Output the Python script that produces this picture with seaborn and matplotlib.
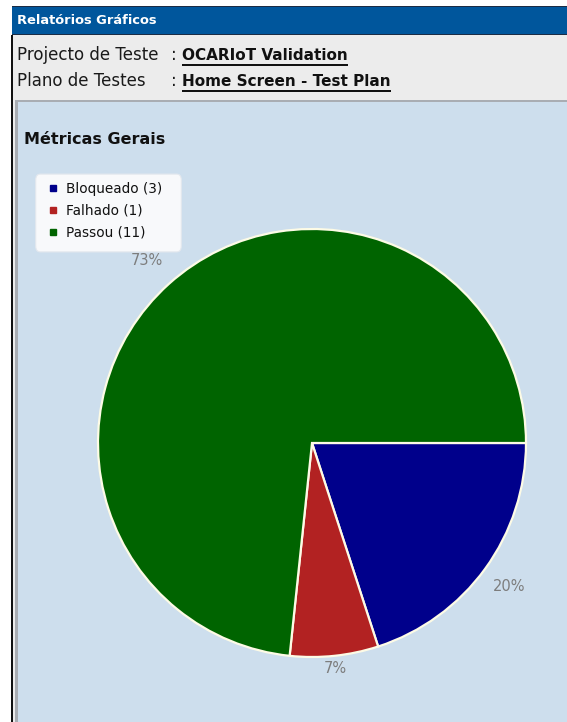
import matplotlib
matplotlib.use("Agg")
import numpy as np
import matplotlib.pyplot as plt
import seaborn as sns
from matplotlib.patches import Rectangle, FancyBboxPatch
from matplotlib.lines import Line2D

# ---- data ----
categories = ["Bloqueado", "Falhado", "Passou"]
counts = [3, 1, 11]
colors = ["#00008b", "#b22222", "#006400"]
header_title = "Relatórios Gráficos"
project_label = "Projecto de Teste"
project_value = "OCARIoT Validation"
plan_label = "Plano de Testes"
plan_value = "Home Screen - Test Plan"
chart_title = "Métricas Gerais"

sns.set_style("white")
plt.rcParams["font.family"] = ["DejaVu Sans"]

W, H = 567, 722
fig = plt.figure(figsize=(W / 100, H / 100), dpi=100)
fig.patch.set_facecolor("white")


def fx(x):
    return x / W


def fy(y):
    return 1 - y / H


def rect(x0, y0, x1, y1, fc, ec="none", lw=0, z=0):
    fig.patches.append(Rectangle((fx(x0), fy(y1)), fx(x1) - fx(x0), fy(y0) - fy(y1),
                                 transform=fig.transFigure, facecolor=fc,
                                 edgecolor=ec, linewidth=lw, zorder=z))


# page background areas
rect(12, 35, W, H, "#ececec")
rect(11, 35, 13, H, "#111111")
# header bar
rect(12, 6, W, 35, "#1b2c45")
rect(12, 7.5, W, 33.5, "#00569c")
fig.text(fx(17), fy(20.5), header_title, color="white", fontsize=9.4,
         fontweight="bold", va="center", ha="left")

# project info lines
reg_fs, bold_fs = 12.0, 11.0
fig.text(fx(17), fy(55), project_label, fontsize=reg_fs, va="center", ha="left",
         color="#1a1a1a")
fig.text(fx(171), fy(55), ":", fontsize=reg_fs, va="center", ha="left", color="#1a1a1a")
t1 = fig.text(fx(182), fy(55), project_value, fontsize=bold_fs, fontweight="bold",
              va="center", ha="left", color="#111111")
fig.text(fx(17), fy(81), plan_label, fontsize=reg_fs, va="center", ha="left",
         color="#1a1a1a")
fig.text(fx(171), fy(81), ":", fontsize=reg_fs, va="center", ha="left", color="#1a1a1a")
t2 = fig.text(fx(182), fy(81), plan_value, fontsize=bold_fs, fontweight="bold",
              va="center", ha="left", color="#111111")

# chart panel
rect(15, 99.5, W, H, "#a9adb3")
rect(17.5, 101.5, W, H, "#cddeed")

fig.text(fx(24), fy(140), chart_title, fontsize=11.5, fontweight="bold",
         va="center", ha="left", color="#111111")

# pie
cx, cy, r = 312, 443, 214
ax = fig.add_axes([fx(cx - r), fy(cy + r), 2 * r / W, 2 * r / H])
ax.set_zorder(5)
ax.patch.set_visible(False)
wedges, texts, autotexts = ax.pie(
    counts, colors=colors, startangle=0, counterclock=False, radius=1,
    autopct="%.0f%%", pctdistance=1.11,
    wedgeprops=dict(edgecolor="#fdfbe6", linewidth=1.6),
    textprops=dict(color="#7d7d7d", fontsize=10.5),
)
# place percentage labels at slightly different distances like the original renderer
label_dist = [1.14, 1.06, 1.15]
for w, t, d in zip(wedges, autotexts, label_dist):
    a = np.deg2rad((w.theta1 + w.theta2) / 2)
    t.set_position((d * np.cos(a), d * np.sin(a)))
ax.set_xlim(-1, 1)
ax.set_ylim(-1, 1)
ax.set_aspect("equal")
ax.axis("off")

# legend
fig.patches.append(FancyBboxPatch((fx(38), fy(249)), fx(179) - fx(38), fy(177) - fy(249),
                                  boxstyle="round,pad=0.004,rounding_size=0.008",
                                  transform=fig.transFigure, facecolor="#f8f9fb",
                                  edgecolor="#e4e8ee", linewidth=0.8, zorder=2))
handles = [Line2D([], [], marker="s", ls="", color=c, markersize=4.5) for c in colors]
labels = [f"{c} ({n})" for c, n in zip(categories, counts)]
leg = fig.legend(handles, labels, loc="upper left",
                 bbox_to_anchor=(fx(43), fy(177.5)), frameon=False,
                 fontsize=9.8, handlelength=0.8, handletextpad=0.6,
                 labelspacing=0.6, borderaxespad=0, borderpad=0.3)
leg.set_zorder(6)
for t in leg.get_texts():
    t.set_color("#111111")

# underlines under bold values
fig.canvas.draw()
rnd = fig.canvas.get_renderer()
for t, yline in ((t1, 64.5), (t2, 90.5)):
    bb = t.get_window_extent(rnd)
    rect(bb.x0, yline, bb.x1, yline + 1.3, "#111111", z=3)

fig.savefig("out.png", dpi=100)
